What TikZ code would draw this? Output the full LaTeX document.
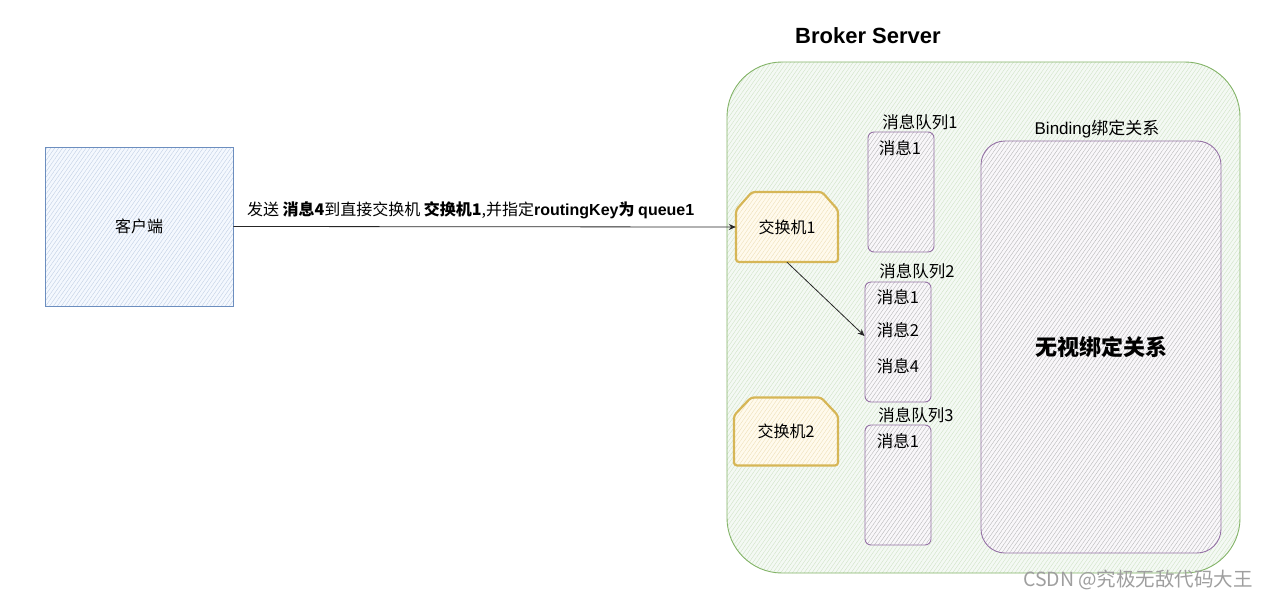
\documentclass[tikz,border=0pt]{standalone}
\usepackage{fontspec}
\setmainfont{Noto Sans CJK SC}
\newfontfamily\lat{Liberation Sans}
\usetikzlibrary{patterns.meta,arrows.meta,calc}
\definecolor{gline}{HTML}{82B366}
\definecolor{gfill}{HTML}{D5E8D4}
\definecolor{bline}{HTML}{6C8EBF}
\definecolor{bfill}{HTML}{DAE8FC}
\definecolor{yline}{HTML}{D6B656}
\definecolor{yfill}{HTML}{FFF2CC}
\definecolor{pline}{HTML}{9673A6}
\definecolor{pfill}{HTML}{E1D5E7}
\newcommand{\fs}[1]{\fontsize{#1}{#1}\selectfont}
\begin{document}
\begin{tikzpicture}[x=1pt,y=-1pt,
  hatch/.style 2 args={preaction={fill=#1}, pattern={Lines[angle=55,distance=3.2pt,line width=0.35pt]}, pattern color=#2},
  client/.style={draw=bline, line width=0.9pt, hatch={bfill!30}{bline!45}, minimum width=188pt, minimum height=159pt, inner sep=0pt, font=\fs{16}},
  broker/.style={draw=gline, line width=0.9pt, rounded corners=55pt, hatch={gfill!25}{gline!40}, minimum width=513pt, minimum height=511pt, inner sep=0pt},
  exchline/.style={draw=yline, line width=2.2pt, rounded corners=3pt, line join=round, hatch={yfill!35}{yline!45}},
  exch/.style={minimum width=102pt, minimum height=70pt, inner sep=0pt, font=\fs{16}},
  queue/.style={draw=pline, line width=0.9pt, rounded corners=6pt, hatch={pfill!20}{gray!60}, minimum width=66pt, minimum height=120pt, inner sep=0pt},
  binding/.style={draw=pline, line width=0.9pt, rounded corners=24pt, hatch={pfill!20}{gray!60}, minimum width=240pt, minimum height=412pt, inner sep=0pt, font=\fs{22}\bfseries},
  qlabel/.style={font=\fs{16.5}, inner sep=0pt},
  item/.style={font=\fs{16.5}, inner sep=0pt},
  conn/.style={draw=black!85, line width=0.8pt, -{Stealth[length=7pt,width=6pt]}}
]
\useasboundingbox (0,0) rectangle (1269,600);

% broker
\node[broker] (bs) at (983.5,317.5) {};
\node[font=\lat\bfseries\fs{22}, inner sep=0pt] (title) at (868,36) {Broker Server};

% client
\node[client] (cl) at (139,226.5) {客户端};

% exchanges
\coordinate (e1c) at (787,227);
\path[exchline] ($(e1c)+(-35,-35)$) -- ($(e1c)+(35,-35)$) -- ($(e1c)+(51,-17)$) -- ($(e1c)+(51,35)$) -- ($(e1c)+(-51,35)$) -- ($(e1c)+(-51,-17)$) -- cycle;
\node[exch] (e1) at (e1c) {交换机1};

\coordinate (e2c) at (786,431.5);
\path[exchline] ($(e2c)+(-35,-34)$) -- ($(e2c)+(35,-34)$) -- ($(e2c)+(52,-16)$) -- ($(e2c)+(52,34)$) -- ($(e2c)+(-52,34)$) -- ($(e2c)+(-52,-16)$) -- cycle;
\node[exch] (e2) at (e2c) {交换机2};

% queues
\node[queue] (q1) at (901,192) {};
\node[qlabel] (q1l) at (920,122) {消息队列1};
\node[item] (q1a) at (900,148) {消息1};

\node[queue] (q2) at (898,342) {};
\node[qlabel] (q2l) at (917,271) {消息队列2};
\node[item] (q2a) at (898,297) {消息1};
\node[item] (q2b) at (898,330) {消息2};
\node[item] (q2c) at (898,366) {消息4};

\node[queue] (q3) at (898,485) {};
\node[qlabel] (q3l) at (916,415) {消息队列3};
\node[item] (q3a) at (898,441) {消息1};

% binding
\node[binding] (bd) at (1101,347) {无视绑定关系};
\node[qlabel, font=\fs{17}] (bdl) at (1097,129) {{\lat Binding}绑定关系};

% connectors
\draw[conn] (cl.east) -- (e1.west) node[midway, above=7pt, xshift=-14pt, inner sep=0pt, font=\fs{16}] (lbl) {发送 {\bfseries 消息4}到直接交换机 {\bfseries 交换机1},并指定{\lat\bfseries routingKey}{\bfseries 为 }{\lat\bfseries queue1}};
\draw[conn] (e1.south) -- ([yshift=6pt]q2.west);

% watermark
\node[font=\fs{19.5}, text=gray!75, inner sep=0pt] (wm) at (1138,580) {CSDN @究极无敌代码大王};
\end{tikzpicture}
\end{document}
